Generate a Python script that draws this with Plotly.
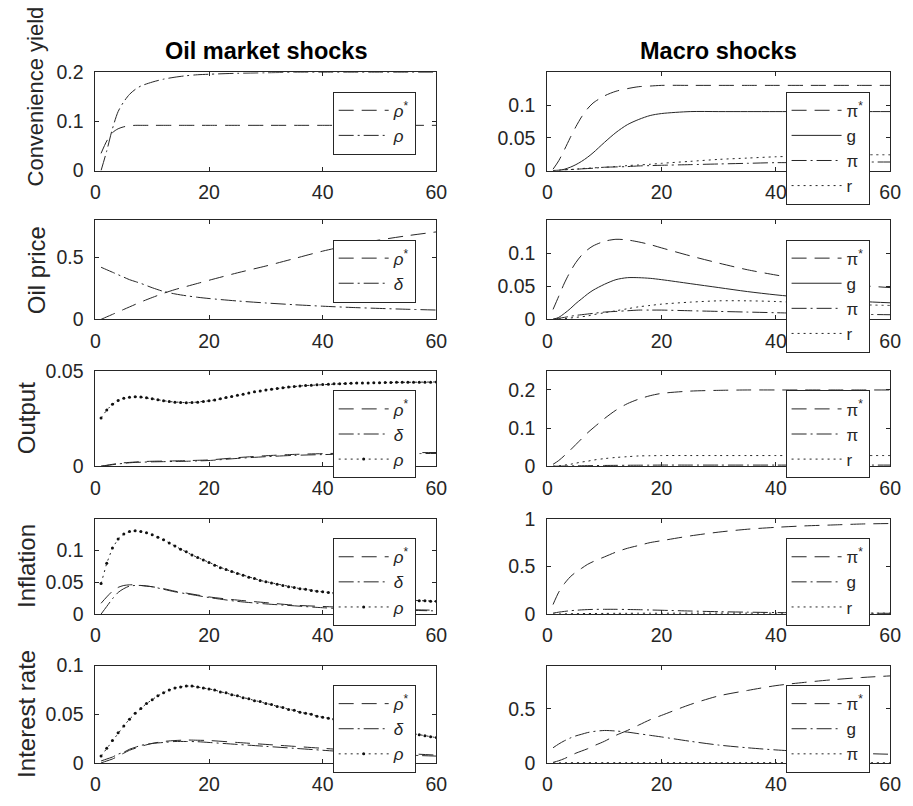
import plotly.graph_objects as go

# ---------------- data ----------------
T = [1, 2, 3, 4, 5, 6, 7, 8, 10, 12, 14, 16, 18, 20, 25, 30, 35, 40, 45, 50, 55, 60]
T_FULL = list(range(1, 61))
X_TICKS = [0, 20, 40, 60]

# Convenience yield
cy_oil_rhostar = [0.035, 0.060, 0.077, 0.085, 0.089, 0.091, 0.092, 0.092, 0.092, 0.092, 0.092,
                  0.092, 0.092, 0.092, 0.092, 0.092, 0.092, 0.092, 0.092, 0.092, 0.092, 0.092]
cy_oil_rho = [0.0, 0.04, 0.085, 0.12, 0.14, 0.155, 0.165, 0.172, 0.18, 0.186, 0.19,
              0.193, 0.195, 0.196, 0.198, 0.199, 0.2, 0.2, 0.2, 0.2, 0.2, 0.2]
cy_mac_pistar = [0.002, 0.015, 0.032, 0.05, 0.067, 0.082, 0.094, 0.103, 0.114, 0.121, 0.125,
                 0.128, 0.129, 0.13, 0.13, 0.13, 0.13, 0.13, 0.13, 0.13, 0.13, 0.13]
cy_mac_g = [0.0, 0.0, 0.002, 0.005, 0.009, 0.014, 0.02, 0.027, 0.043, 0.058, 0.07,
            0.078, 0.084, 0.087, 0.09, 0.09, 0.09, 0.09, 0.09, 0.09, 0.09, 0.09]
cy_mac_pi = [0.0, 0.0005, 0.001, 0.0015, 0.002, 0.0025, 0.003, 0.0035, 0.005, 0.0055, 0.006,
             0.007, 0.0075, 0.008, 0.009, 0.01, 0.011, 0.012, 0.012, 0.013, 0.013, 0.013]
cy_mac_r = [0.0, 0.0003, 0.001, 0.0015, 0.002, 0.003, 0.0035, 0.004, 0.005, 0.006, 0.0075,
            0.0085, 0.0095, 0.011, 0.014, 0.017, 0.019, 0.021, 0.022, 0.023, 0.024, 0.024]

# Oil price
op_oil_rhostar = [0.0, 0.02, 0.04, 0.06, 0.08, 0.1, 0.12, 0.14, 0.176, 0.21, 0.24,
                  0.265, 0.29, 0.315, 0.375, 0.43, 0.49, 0.55, 0.6, 0.64, 0.675, 0.705]
op_oil_delta = [0.42, 0.40, 0.38, 0.36, 0.34, 0.32, 0.305, 0.29, 0.255, 0.225, 0.205,
                0.19, 0.178, 0.168, 0.148, 0.132, 0.118, 0.106, 0.096, 0.088, 0.081, 0.075]
op_mac_pistar = [0.015, 0.035, 0.055, 0.072, 0.086, 0.097, 0.105, 0.111, 0.118, 0.121, 0.12,
                 0.117, 0.113, 0.108, 0.096, 0.085, 0.075, 0.067, 0.06, 0.055, 0.051, 0.048]
op_mac_g = [0.0, 0.003, 0.009, 0.016, 0.024, 0.031, 0.038, 0.044, 0.053, 0.06, 0.063,
            0.063, 0.062, 0.06, 0.054, 0.048, 0.042, 0.037, 0.033, 0.03, 0.027, 0.025]
op_mac_pi = [0.0, 0.0015, 0.003, 0.0045, 0.006, 0.007, 0.008, 0.009, 0.011, 0.012, 0.013,
             0.014, 0.014, 0.014, 0.013, 0.012, 0.011, 0.01, 0.009, 0.008, 0.0075, 0.007]
op_mac_r = [0.0, 0.0005, 0.001, 0.002, 0.003, 0.004, 0.005, 0.007, 0.01, 0.013, 0.016,
            0.019, 0.021, 0.023, 0.026, 0.028, 0.028, 0.027, 0.025, 0.023, 0.022, 0.021]

# Output
y_oil_rhostar = [0.0, 0.0005, 0.001, 0.0014, 0.0018, 0.002, 0.0022, 0.0024, 0.0026, 0.0027, 0.0028,
                 0.0029, 0.0031, 0.0033, 0.0045, 0.0055, 0.0062, 0.0066, 0.0069, 0.007, 0.0071, 0.0072]
y_oil_delta = [0.0, 0.0004, 0.0008, 0.0012, 0.0015, 0.0018, 0.002, 0.0021, 0.0023, 0.0024, 0.0025,
               0.0026, 0.0028, 0.003, 0.0041, 0.005, 0.0057, 0.0061, 0.0064, 0.0065, 0.0066, 0.0067]
y_oil_rho = [0.0253, 0.0295, 0.0325, 0.0345, 0.0356, 0.0362, 0.0364, 0.0363, 0.0359, 0.0354,
             0.0349, 0.0344, 0.0339, 0.0336, 0.0334, 0.0333, 0.0334, 0.0336, 0.0339, 0.0343,
             0.0348, 0.0354, 0.036, 0.0366, 0.0372, 0.0378, 0.0384, 0.039, 0.0395, 0.04,
             0.0404, 0.0408, 0.0412, 0.0415, 0.0418, 0.0421, 0.0423, 0.0425, 0.0427, 0.0429,
             0.043, 0.0432, 0.0433, 0.0434, 0.0435, 0.0436, 0.0437, 0.0437, 0.0438, 0.0438,
             0.0439, 0.0439, 0.044, 0.044, 0.044, 0.0441, 0.0441, 0.0441, 0.0441, 0.0442]
y_mac_pistar = [0.005, 0.015, 0.028, 0.042, 0.057, 0.072, 0.087, 0.1, 0.125, 0.147, 0.164,
                0.176, 0.185, 0.191, 0.197, 0.199, 0.2, 0.2, 0.2, 0.2, 0.2, 0.2]
y_mac_pi = [0.0, 0.0002, 0.0005, 0.0008, 0.001, 0.0012, 0.0014, 0.0016, 0.002, 0.0023, 0.0025,
            0.0027, 0.0028, 0.003, 0.003, 0.003, 0.003, 0.003, 0.003, 0.003, 0.003, 0.003]
y_mac_r = [0.0, 0.001, 0.003, 0.005, 0.008, 0.011, 0.013, 0.016, 0.02, 0.023, 0.025,
           0.027, 0.0275, 0.028, 0.028, 0.028, 0.028, 0.028, 0.028, 0.028, 0.028, 0.028]

# Inflation
inf_oil_rhostar = [0.017, 0.027, 0.036, 0.042, 0.045, 0.046, 0.046, 0.045, 0.043, 0.04, 0.036,
                   0.033, 0.03, 0.027, 0.022, 0.018, 0.014, 0.012, 0.01, 0.008, 0.007, 0.006]
inf_oil_delta = [0.0, 0.012, 0.024, 0.034, 0.04, 0.044, 0.045, 0.045, 0.043, 0.039, 0.035,
                 0.032, 0.029, 0.026, 0.02, 0.016, 0.013, 0.01, 0.008, 0.007, 0.006, 0.005]
inf_oil_rho = [0.048, 0.08, 0.104, 0.118, 0.126, 0.13, 0.131, 0.13, 0.128, 0.125,
               0.121, 0.117, 0.112, 0.107, 0.102, 0.098, 0.093, 0.089, 0.085, 0.081,
               0.077, 0.073, 0.07, 0.067, 0.064, 0.061, 0.058, 0.056, 0.053, 0.051,
               0.049, 0.047, 0.045, 0.043, 0.042, 0.04, 0.039, 0.037, 0.036, 0.035,
               0.034, 0.033, 0.032, 0.031, 0.03, 0.029, 0.028, 0.028, 0.027, 0.026,
               0.025, 0.025, 0.024, 0.023, 0.023, 0.022, 0.021, 0.021, 0.02, 0.02]
inf_mac_pistar = [0.1, 0.23, 0.32, 0.39, 0.44, 0.48, 0.52, 0.55, 0.6, 0.65, 0.69,
                  0.72, 0.75, 0.77, 0.82, 0.86, 0.89, 0.91, 0.925, 0.935, 0.945, 0.95]
inf_mac_g = [0.01, 0.02, 0.028, 0.035, 0.04, 0.044, 0.047, 0.049, 0.05, 0.05, 0.048,
             0.046, 0.043, 0.04, 0.032, 0.025, 0.02, 0.016, 0.013, 0.011, 0.009, 0.008]
inf_mac_r = [0.0, 0.001, 0.002, 0.003, 0.004, 0.005, 0.006, 0.006, 0.007, 0.008, 0.008,
             0.009, 0.009, 0.009, 0.01, 0.01, 0.01, 0.01, 0.01, 0.01, 0.01, 0.01]

# Interest rate
ir_oil_rhostar = [0.0, 0.002, 0.004, 0.007, 0.01, 0.013, 0.015, 0.017, 0.02, 0.022, 0.023,
                  0.0235, 0.0233, 0.023, 0.021, 0.019, 0.017, 0.015, 0.013, 0.011, 0.0095, 0.008]
ir_oil_delta = [0.002, 0.004, 0.006, 0.009, 0.011, 0.014, 0.016, 0.018, 0.02, 0.021, 0.022,
                0.022, 0.0218, 0.021, 0.019, 0.017, 0.015, 0.013, 0.011, 0.0095, 0.008, 0.007]
ir_oil_rho = [0.007, 0.015, 0.023, 0.031, 0.038, 0.045, 0.051, 0.056, 0.061, 0.065,
              0.069, 0.072, 0.075, 0.077, 0.078, 0.079, 0.079, 0.078, 0.077, 0.076,
              0.075, 0.073, 0.072, 0.07, 0.069, 0.067, 0.066, 0.064, 0.063, 0.061,
              0.06, 0.058, 0.057, 0.055, 0.054, 0.052, 0.051, 0.05, 0.048, 0.047,
              0.046, 0.045, 0.043, 0.042, 0.041, 0.04, 0.039, 0.038, 0.037, 0.036,
              0.035, 0.034, 0.033, 0.032, 0.031, 0.03, 0.029, 0.028, 0.027, 0.026]
ir_mac_pistar = [0.005, 0.02, 0.04, 0.065, 0.09, 0.11, 0.13, 0.155, 0.2, 0.255, 0.3,
                 0.35, 0.4, 0.44, 0.54, 0.62, 0.67, 0.715, 0.745, 0.77, 0.79, 0.805]
ir_mac_g = [0.14, 0.175, 0.205, 0.23, 0.25, 0.265, 0.28, 0.29, 0.3, 0.295, 0.285,
            0.27, 0.255, 0.24, 0.2, 0.165, 0.14, 0.12, 0.105, 0.095, 0.087, 0.08]
ir_mac_pi = [0.0, 0.0005, 0.001, 0.0015, 0.002, 0.002, 0.002, 0.002, 0.002, 0.002, 0.002,
             0.002, 0.002, 0.002, 0.002, 0.002, 0.002, 0.002, 0.002, 0.002, 0.002, 0.002]

ROW_LABELS = ["Convenience yield", "Oil price", "Output", "Inflation", "Interest rate"]
COL_TITLES = ["Oil market shocks", "Macro shocks"]

RHOS = "<i>ρ</i><sup>*</sup>"
RHO = "<i>ρ</i>"
DEL = "<i>δ</i>"
PIS = "π<sup>*</sup>"
PI = "π"

# (row, col) -> list of (legend name, x, y, style)
PANELS = {
    (0, 0): [(RHOS, T, cy_oil_rhostar, "dash"), (RHO, T, cy_oil_rho, "dashdot")],
    (0, 1): [(PIS, T, cy_mac_pistar, "dash"), ("g", T, cy_mac_g, "solid"),
             (PI, T, cy_mac_pi, "dashdot"), ("r", T, cy_mac_r, "dot")],
    (1, 0): [(RHOS, T, op_oil_rhostar, "dash"), (DEL, T, op_oil_delta, "dashdot")],
    (1, 1): [(PIS, T, op_mac_pistar, "dash"), ("g", T, op_mac_g, "solid"),
             (PI, T, op_mac_pi, "dashdot"), ("r", T, op_mac_r, "dot")],
    (2, 0): [(RHOS, T, y_oil_rhostar, "dash"), (DEL, T, y_oil_delta, "dashdot"),
             (RHO, T_FULL, y_oil_rho, "dotmark")],
    (2, 1): [(PIS, T, y_mac_pistar, "dash"), (PI, T, y_mac_pi, "dashdot"),
             ("r", T, y_mac_r, "dot")],
    (3, 0): [(RHOS, T, inf_oil_rhostar, "dash"), (DEL, T, inf_oil_delta, "dashdot"),
             (RHO, T_FULL, inf_oil_rho, "dotmark")],
    (3, 1): [(PIS, T, inf_mac_pistar, "dash"), ("g", T, inf_mac_g, "dashdot"),
             ("r", T, inf_mac_r, "dot")],
    (4, 0): [(RHOS, T, ir_oil_rhostar, "dash"), (DEL, T, ir_oil_delta, "dashdot"),
             (RHO, T_FULL, ir_oil_rho, "dotmark")],
    (4, 1): [(PIS, T, ir_mac_pistar, "dash"), ("g", T, ir_mac_g, "dashdot"),
             (PI, T, ir_mac_pi, "dot")],
}

Y_RANGES = {
    (0, 0): ([0, 0.2], [0, 0.1, 0.2]), (0, 1): ([0, 0.15], [0, 0.05, 0.1]),
    (1, 0): ([0, 0.8], [0, 0.5]), (1, 1): ([0, 0.15], [0, 0.05, 0.1]),
    (2, 0): ([0, 0.05], [0, 0.05]), (2, 1): ([0, 0.25], [0, 0.1, 0.2]),
    (3, 0): ([0, 0.15], [0, 0.05, 0.1]), (3, 1): ([0, 1], [0, 0.5, 1]),
    (4, 0): ([0, 0.1], [0, 0.05, 0.1]), (4, 1): ([0, 0.9], [0, 0.5]),
}

# ---------------- layout geometry (pixels) ----------------
W, H = 913, 806
XDOM = [(92, 439), (552, 901)]
YDOM = [(63, 164), (215, 317), (370, 468), (522, 620), (673, 773)]
LEG_RIGHT = [418, 880]
LEG_TOP_OFF = 20
FONT = "Liberation Sans, Arial, Helvetica, sans-serif"
AX_COL = "#262626"
LINE_COL = "#262626"

DASHES = {"dash": "15px,8px", "dashdot": "15px,4px,2px,4px", "dot": "2px,4px",
          "solid": "solid", "dotmark": "2px,4px"}


def px_x(v):
    return v / W


def px_y(v):
    return 1 - v / H


fig = go.Figure()
layout = dict(width=W, height=H, margin=dict(l=0, r=0, t=0, b=0),
              paper_bgcolor="white", plot_bgcolor="white",
              font=dict(family=FONT, color=AX_COL), annotations=[])

for (r, c), series in PANELS.items():
    p = r * 2 + c + 1
    xa = "x" if p == 1 else f"x{p}"
    ya = "y" if p == 1 else f"y{p}"
    leg = "legend" if p == 1 else f"legend{p}"
    for name, xs, ys, style in series:
        mode = "lines+markers" if style == "dotmark" else "lines"
        fig.add_trace(go.Scatter(
            x=xs, y=ys, name=name, mode=mode, xaxis=xa, yaxis=ya, legend=leg,
            line=dict(color=LINE_COL, width=1, dash=DASHES[style],
                      shape="linear" if style == "dotmark" else "spline", smoothing=0.8),
            marker=dict(size=3, color="#111111"), showlegend=True, hoverinfo="skip"))
    yr, yt = Y_RANGES[(r, c)]
    x0, x1 = XDOM[c]
    y0, y1 = YDOM[r]
    common = dict(showline=True, linecolor=AX_COL, linewidth=1, mirror="allticks",
                  ticks="inside", ticklen=4, tickcolor=AX_COL, tickwidth=1,
                  showgrid=False, zeroline=False,
                  tickfont=dict(family=FONT, size=19.5, color=AX_COL))
    layout["xaxis" if p == 1 else f"xaxis{p}"] = dict(
        domain=[px_x(x0), px_x(x1)], anchor=ya, range=[0, 60], tickvals=X_TICKS,
        ticktext=[str(v) for v in X_TICKS], ticklabelstandoff=4, **common)
    layout["yaxis" if p == 1 else f"yaxis{p}"] = dict(
        domain=[px_y(y1), px_y(y0)], anchor=xa, range=yr, tickvals=yt,
        ticktext=["%g" % v for v in yt], ticklabelstandoff=7, **common)
    layout[leg] = dict(x=px_x(LEG_RIGHT[c]), y=px_y(y0 + LEG_TOP_OFF),
                       xanchor="right", yanchor="top", xref="paper", yref="paper",
                       bgcolor="white", bordercolor=AX_COL, borderwidth=1,
                       font=dict(family=FONT, size=17, color=AX_COL),
                       itemwidth=50, tracegroupgap=0, traceorder="normal")

# column titles
for c, title in enumerate(COL_TITLES):
    x0, x1 = XDOM[c]
    layout["annotations"].append(dict(
        text=f"<b>{title}</b>", x=px_x((x0 + x1) / 2), y=px_y(41), xref="paper", yref="paper",
        xanchor="center", yanchor="middle", showarrow=False,
        font=dict(family=FONT, size=23.5, color="black")))

# row labels
LABEL_X = [31, 32, 22, 22, 22]
LABEL_SIZE = [22, 24, 24, 24, 24]
for r, lab in enumerate(ROW_LABELS):
    y0, y1 = YDOM[r]
    if r == 0:
        ann = dict(y=px_y(182), yanchor="bottom")
    else:
        ann = dict(y=px_y((y0 + y1) / 2), yanchor="middle")
    layout["annotations"].append(dict(
        text=lab, x=px_x(LABEL_X[r]), xref="paper", yref="paper", xanchor="center",
        textangle=-90, showarrow=False,
        font=dict(family=FONT, size=LABEL_SIZE[r], color=AX_COL), **ann))

fig.update_layout(**layout)
fig.write_html("out.html")
